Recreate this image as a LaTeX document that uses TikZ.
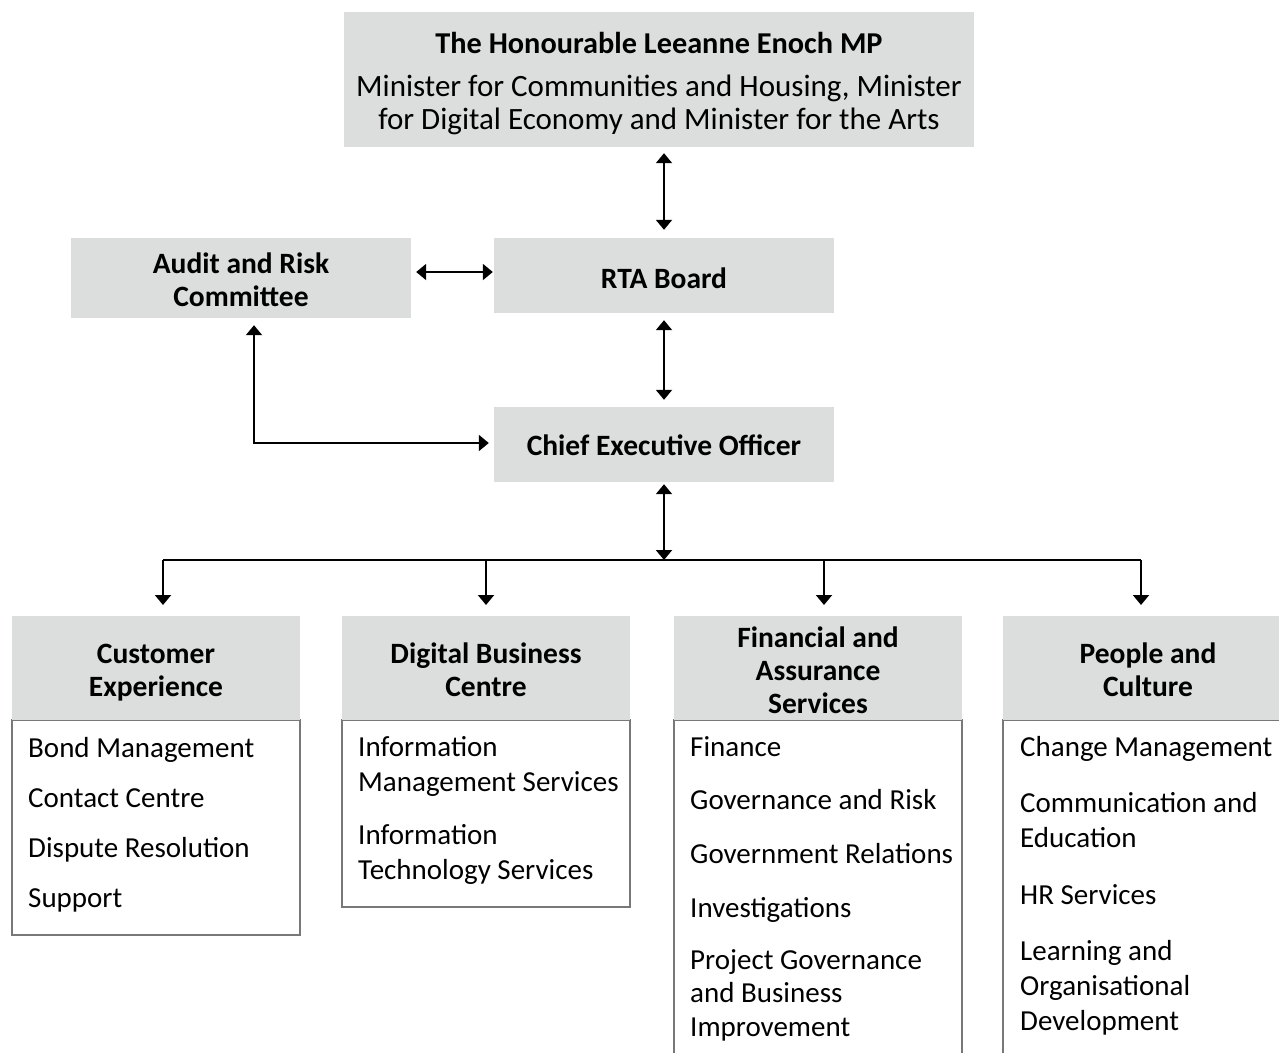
\documentclass[tikz,border=0pt]{standalone}
\usepackage{fontspec}
\setmainfont{Carlito}
\usetikzlibrary{arrows.meta}
\definecolor{boxgray}{RGB}{220,221,221}
\definecolor{edgegray}{RGB}{120,120,120}
\newcommand\txtsize{\fontsize{29}{34}\selectfont}
\newcommand\hdsize{\fontsize{29.5}{34}\selectfont}
\begin{document}
\begin{tikzpicture}[x=1pt,y=-1pt,
  box/.style={fill=boxgray, draw=none, inner sep=0},
  hd/.style={inner sep=0, anchor=base, font=\hdsize\bfseries},
  sub/.style={inner sep=0, anchor=base, font=\fontsize{31}{36}\selectfont},
  item/.style={inner sep=0, anchor=base west, font=\txtsize},
  bodybox/.style={draw=edgegray, line width=1.2pt, fill=white},
  link/.style={draw=black, line width=2pt},
  dbl/.style={link, {Triangle[width=16pt,length=10pt]}-{Triangle[width=16pt,length=10pt]}},
  one/.style={link, -{Triangle[width=16pt,length=10pt]}}]
\clip (0,0) rectangle (1279,1052);
\fill[white] (0,0) rectangle (1279,1052);

% upper boxes
\node[box, minimum width=630, minimum height=135] (minister) at (659,79.5) {};
\node[hd, font=\fontsize{30.3}{35}\selectfont\bfseries] (mt) at (659,53) {The Honourable Leeanne Enoch MP};
\node[sub] (ms1) at (659,96)  {Minister for Communities and Housing, Minister};
\node[sub] (ms2) at (659,129) {for Digital Economy and Minister for the Arts};

\node[box, minimum width=340, minimum height=75] (rta) at (664,275.5) {};
\node[hd] (rtat) at (664,288) {RTA Board};

\node[box, minimum width=340, minimum height=80] (audit) at (241,278) {};
\node[hd] (au1) at (241,273) {Audit and Risk};
\node[hd] (au2) at (241,306) {Committee};

\node[box, minimum width=340, minimum height=75] (ceo) at (664,444.5) {};
\node[hd] (ceot) at (664,455) {Chief Executive Officer};

% connectors in the upper part
\coordinate (arl) at (0,272);
\coordinate (elbow) at (254,443);
\coordinate (bus) at (664,560);
\draw[dbl, shorten <=6pt, shorten >=8pt] (rta.north |- minister.south) -- (rta.north);
\draw[dbl, shorten <=7pt, shorten >=7pt] (rta.south) -- (ceo.north);
\draw[dbl, shorten <=5pt, shorten >=1pt] (audit.east |- arl) -- (rta.west |- arl);
\draw[dbl, shorten <=7pt, shorten >=5pt] (elbow |- audit.south) |- (ceo.west |- elbow);
\draw[dbl, shorten <=2pt] (ceo.south) -- (bus);

% branch line and drops
\coordinate (b1) at (163,560);
\coordinate (b2) at (486,560);
\coordinate (b3) at (824,560);
\coordinate (b4) at (1141,560);
\coordinate (d1) at (163,605);
\coordinate (d2) at (486,605);
\coordinate (d3) at (824,605);
\coordinate (d4) at (1141,605);
\draw[link] (b1) -- (b4);
\draw[one] (b1) -- (d1);
\draw[one] (b2) -- (d2);
\draw[one] (b3) -- (d3);
\draw[one] (b4) -- (d4);

% unit bodies
\draw[bodybox] (12,720) rectangle (300,935);
\draw[bodybox] (342,720) rectangle (630,907);
\draw[bodybox] (674,720) rectangle (962,1070);
\draw[bodybox] (1003,720) rectangle (1300,1070);

% unit headers
\node[box, minimum width=288, minimum height=104] (cx)  at (156,668) {};
\node[box, minimum width=288, minimum height=104] (dbc) at (486,668) {};
\node[box, minimum width=288, minimum height=104] (fas) at (818,668) {};
\node[box, minimum width=297, minimum height=104] (pc)  at (1151.5,668) {};

\node[hd] (cxh1) at (156,663) {Customer};
\node[hd] (cxh2) at (156,696) {Experience};
\node[hd] (dbh1) at (486,663) {Digital Business};
\node[hd] (dbh2) at (486,696) {Centre};
\node[hd] (fah1) at (818,647) {Financial and};
\node[hd] (fah2) at (818,680) {Assurance};
\node[hd] (fah3) at (818,713) {Services};
\node[hd] (pch1) at (1148,663) {People and};
\node[hd] (pch2) at (1148,696) {Culture};

% unit items
\node[item] (cx1) at (28,757) {Bond Management};
\node[item] (cx2) at (28,807) {Contact Centre};
\node[item] (cx3) at (28,857) {Dispute Resolution};
\node[item] (cx4) at (28,907) {Support};

\node[item] (db1) at (358,756) {Information};
\node[item] (db2) at (358,791) {Management Services};
\node[item] (db3) at (358,844) {Information};
\node[item] (db4) at (358,879) {Technology Services};

\node[item] (fa1) at (690,756) {Finance};
\node[item] (fa2) at (690,809) {Governance and Risk};
\node[item] (fa3) at (690,863) {Government Relations};
\node[item] (fa4) at (690,917) {Investigations};
\node[item] (fa5) at (690,969) {Project Governance};
\node[item] (fa6) at (690,1002) {and Business};
\node[item] (fa7) at (690,1036) {Improvement};

\node[item] (pc1) at (1020,756) {Change Management};
\node[item] (pc2) at (1020,812) {Communication and};
\node[item] (pc3) at (1020,847) {Education};
\node[item] (pc4) at (1020,904) {HR Services};
\node[item] (pc5) at (1020,960) {Learning and};
\node[item] (pc6) at (1020,995) {Organisational};
\node[item] (pc7) at (1020,1030) {Development};
\end{tikzpicture}
\end{document}
